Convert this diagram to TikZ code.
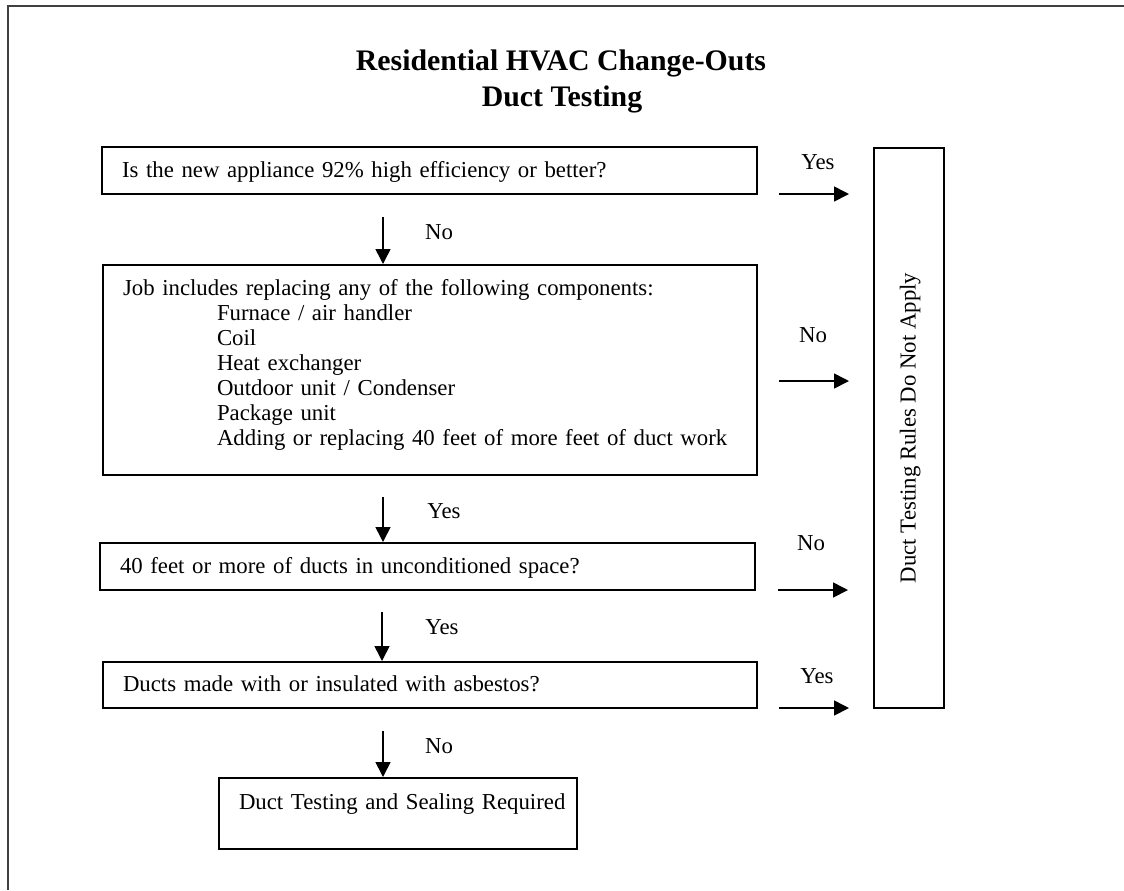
\documentclass[tikz,border=0pt]{standalone}
\usepackage{fontspec}
\setmainfont{Liberation Serif}
\usetikzlibrary{arrows.meta}
\begin{document}
\begin{tikzpicture}[x=0.5pt,y=-0.5pt,
  box/.style={draw, line width=1pt, inner ysep=0pt, inner xsep=10pt, align=left,
    font=\fontsize{11.4}{12.5}\selectfont},
  onebox/.style={box, text height=9pt, text depth=2.5pt},
  lbl/.style={font=\fontsize{11.4}{14}\selectfont, inner sep=0pt, anchor=base},
  ttl/.style={font=\fontsize{14.9}{18}\selectfont\bfseries, inner sep=0pt, anchor=base},
  arr/.style={line width=0.8pt, -{Triangle[length=7.5pt,width=7.5pt]}}]
\useasboundingbox (0,0) rectangle (1124,890);
% outer frame (left and top edges visible)
\draw[black!75, line width=1pt] (8,890) -- (8,6) -- (1124,6);
% title
\node[ttl] (t1) at (561,70) {Residential HVAC Change-Outs};
\node[ttl] (t2) at (562,106) {Duct Testing};
% boxes
\node[onebox, minimum width=327.5pt, text width=307.5pt, minimum height=23.5pt] (b1) at (429.5,170.5)
  {\mbox{Is the new appliance 92\% high efficiency or better?}};
\node[box, minimum width=327pt, text width=307pt, minimum height=105pt] (b2) at (430,370)
  {\mbox{Job includes replacing any of the following components:}\\
   \hspace*{47pt}Furnace / air handler\\
   \hspace*{47pt}Coil\\
   \hspace*{47pt}Heat exchanger\\
   \hspace*{47pt}Outdoor unit / Condenser\\
   \hspace*{47pt}Package unit\\
   \hspace*{47pt}\mbox{Adding or replacing 40 feet of more feet of duct work}\rule[-8pt]{0pt}{1pt}};
\node[onebox, minimum width=327.5pt, text width=307.5pt, minimum height=23.5pt] (b3) at (427.5,566.5)
  {\mbox{40 feet or more of ducts in unconditioned space?}};
\node[onebox, minimum width=327pt, text width=307pt, minimum height=23pt] (b4) at (430,685)
  {\mbox{Ducts made with or insulated with asbestos?}};
\node[box, minimum width=179pt, text width=159pt, minimum height=35.5pt,
  text height=8pt, text depth=12.5pt] (b5) at (398,813.5)
  {\mbox{Duct Testing and Sealing Required}};
\node[onebox, align=center, inner xsep=0pt, rotate=90, minimum width=280pt, minimum height=35pt] (rules) at (909,428)
  {\mbox{Duct Testing Rules Do Not Apply}};
% down arrows
\coordinate (d1) at (383,217);
\coordinate (d2) at (383,497);
\coordinate (d3) at (382,612);
\coordinate (d4) at (383,731);
\draw[arr] (d1) -- (d1 |- b2.north);
\draw[arr] (d2) -- (d2 |- b3.north);
\draw[arr] (d3) -- (d3 |- b4.north);
\draw[arr] (d4) -- (d4 |- b5.north);
\node[lbl] (ld1) at (439,239) {No};
\node[lbl] (ld2) at (444,518) {Yes};
\node[lbl] (ld3) at (442,634) {Yes};
\node[lbl] (ld4) at (439,753) {No};
% right arrows
\coordinate (r1s) at (779,194); \coordinate (r1e) at (849,194);
\coordinate (r2s) at (779,381); \coordinate (r2e) at (849,381);
\coordinate (r3s) at (778,590); \coordinate (r3e) at (848,590);
\coordinate (r4s) at (779,708); \coordinate (r4e) at (849,708);
\draw[arr] (r1s) -- (r1e);
\draw[arr] (r2s) -- (r2e);
\draw[arr] (r3s) -- (r3e);
\draw[arr] (r4s) -- (r4e);
\node[lbl] (lr1) at (818,169) {Yes};
\node[lbl] (lr2) at (813,342) {No};
\node[lbl] (lr3) at (811,550) {No};
\node[lbl] (lr4) at (817,683) {Yes};
\end{tikzpicture}
\end{document}
